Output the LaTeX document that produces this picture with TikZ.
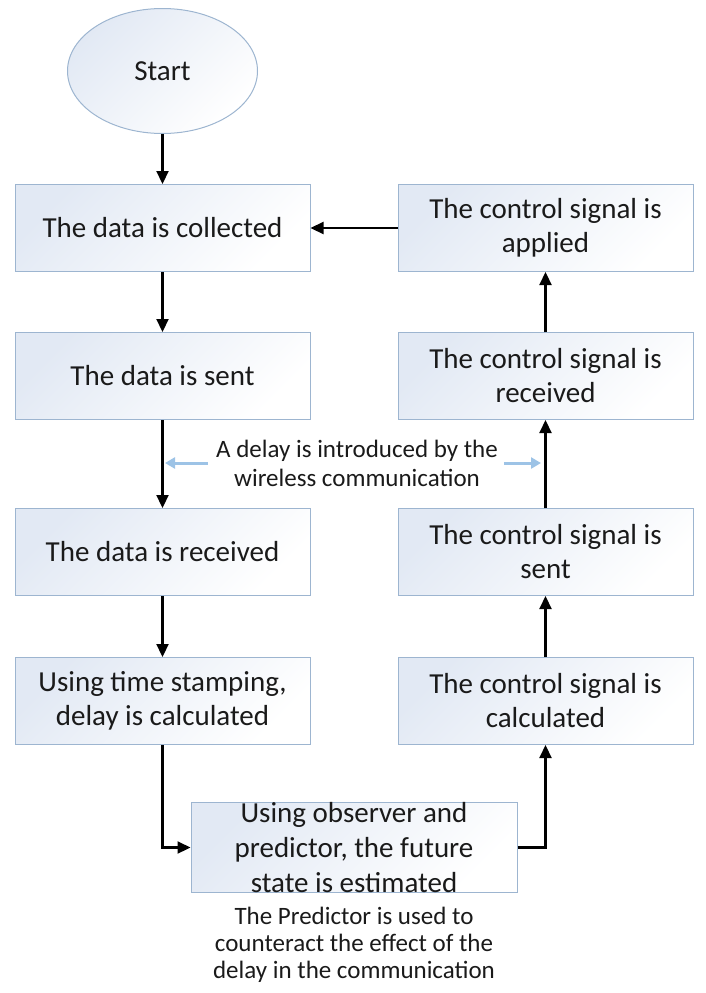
\documentclass[tikz,border=0pt]{standalone}
\usepackage{fontspec}
\setmainfont{Carlito}
\usetikzlibrary{arrows.meta,shapes.geometric}
\definecolor{bord}{HTML}{9DB5D0}
\definecolor{fillc}{HTML}{E2E9F4}
\definecolor{lblue}{HTML}{9DC3E6}
\definecolor{txt}{HTML}{1A1A1A}
\begin{document}
\begin{tikzpicture}[x=1pt,y=-1pt,
  box/.style={draw=bord, line width=1pt, top color=fillc, bottom color=white, shading angle=45,
    minimum width=295pt, minimum height=87pt, inner sep=0pt, align=center,
    text=txt, font=\fontsize{29}{34}\selectfont},
  arr/.style={line width=2.2pt, -{Triangle[width=12pt,length=13pt]}},
  larr/.style={draw=lblue, line width=3pt, -{Triangle[width=11pt,length=10pt]}},
  note/.style={align=center, inner sep=0pt, text=txt}]
\useasboundingbox (0,0) rectangle (705,993);
\node[ellipse, draw=bord, line width=1pt, top color=fillc, bottom color=white, shading angle=45,
  minimum width=190pt, minimum height=125pt, inner sep=0pt, text=txt,
  font=\fontsize{29}{34}\selectfont] (start) at (162.5,71) {Start};
\node[box] (c1) at (162.5,228) {The data is collected};
\node[box] (c2) at (162.5,376) {The data is sent};
\node[box] (c3) at (162.5,552) {The data is received};
\node[box] (c4) at (162.5,701) {Using time stamping,\\delay is calculated};
\node[box] (r1) at (545.5,228) {The control signal is\\applied};
\node[box] (r2) at (545.5,376) {The control signal is\\received};
\node[box] (r3) at (545.5,552) {The control signal is\\sent};
\node[box] (r4) at (545.5,701) {The control signal is\\calculated};
\node[box, minimum width=326pt, minimum height=89pt, font=\fontsize{29}{35}\selectfont] (pred) at (354,847.5)
  {Using observer and\\predictor, the future\\state is estimated};
\node[note, font=\fontsize{25}{29}\selectfont] (delay) at (357,463)
  {A delay is introduced by the\\wireless communication};
\node[note, font=\fontsize{25}{27}\selectfont] (pnote) at (354,945)
  {The Predictor is used to\\counteract the effect of the\\delay in the communication};
\coordinate (dl) at (165,463);
\coordinate (dr) at (541,463);
\draw[arr] (start.south) -- (c1.north);
\draw[arr] (c1.south) -- (c2.north);
\draw[arr] (c2.south) -- (c3.north);
\draw[arr] (c3.south) -- (c4.north);
\draw[arr] (c4.south) |- (pred.west);
\draw[arr] (pred.east) -| (r4.south);
\draw[arr] (r4.north) -- (r3.south);
\draw[arr] (r3.north) -- (r2.south);
\draw[arr] (r2.north) -- (r1.south);
\draw[arr] (r1.west) -- (c1.east);
\draw[larr] ([xshift=-8pt]delay.west) -- (dl);
\draw[larr] ([xshift=6pt]delay.east) -- (dr);
\end{tikzpicture}
\end{document}
